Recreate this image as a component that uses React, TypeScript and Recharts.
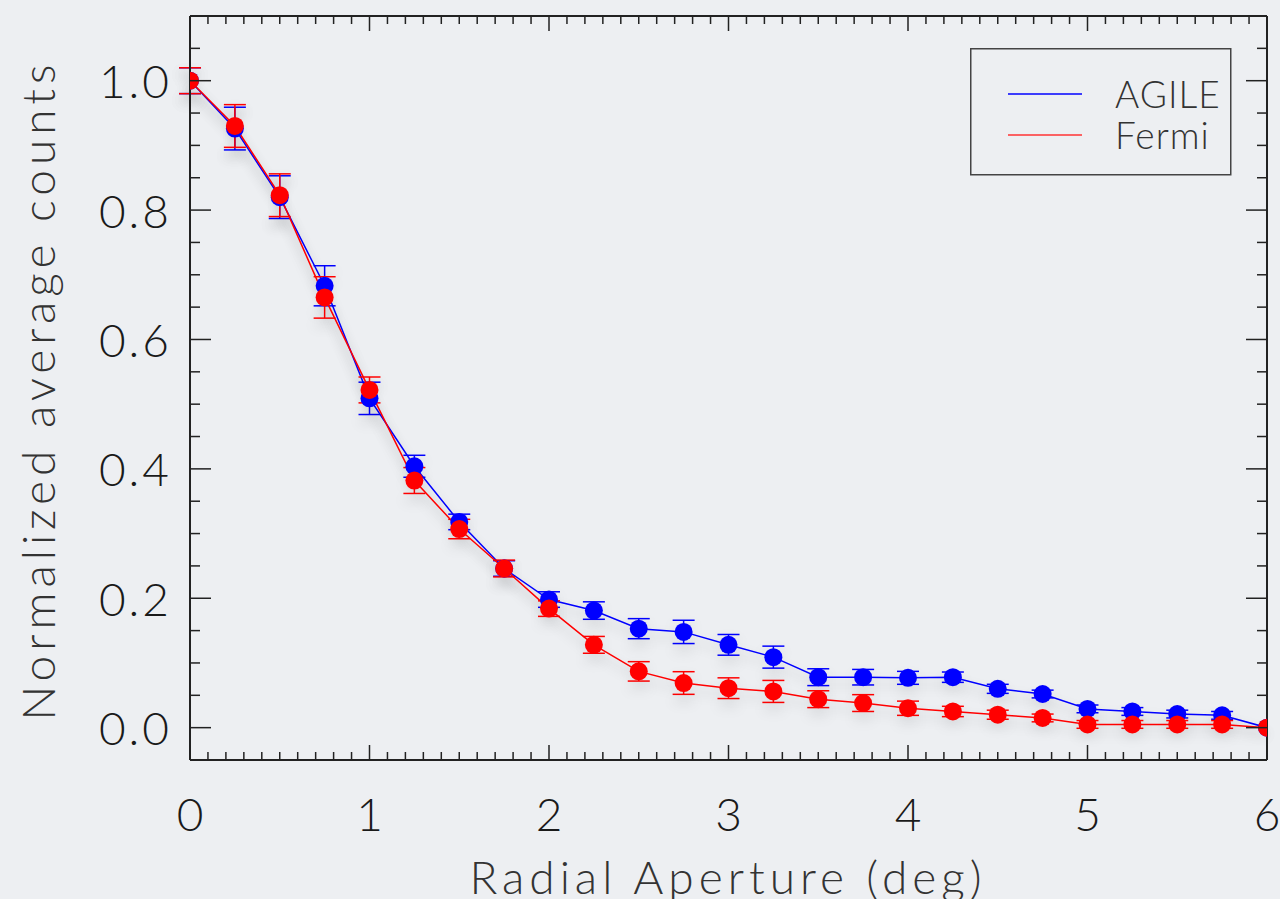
import React from "react";
import {
  ComposedChart,
  Line,
  XAxis,
  YAxis,
  ErrorBar,
} from "recharts";

const radius = [0, 0.25, 0.5, 0.75, 1, 1.25, 1.5, 1.75, 2, 2.25, 2.5, 2.75, 3, 3.25, 3.5, 3.75, 4, 4.25, 4.5, 4.75, 5, 5.25, 5.5, 5.75, 6];
const agile = [1.0, 0.926, 0.82, 0.683, 0.509, 0.404, 0.318, 0.246, 0.198, 0.181, 0.153, 0.148, 0.128, 0.109, 0.078, 0.078, 0.077, 0.078, 0.06, 0.052, 0.029, 0.025, 0.021, 0.019, 0.0];
const agileErr = [0.02, 0.033, 0.033, 0.031, 0.025, 0.017, 0.012, 0.012, 0.012, 0.0135, 0.0155, 0.018, 0.016, 0.017, 0.013, 0.012, 0.01, 0.008, 0.007, 0.006, 0.006, 0.006, 0.006, 0.006, 0];
const fermi = [1.0, 0.93, 0.823, 0.665, 0.522, 0.382, 0.307, 0.246, 0.184, 0.128, 0.087, 0.069, 0.061, 0.056, 0.044, 0.038, 0.03, 0.025, 0.02, 0.015, 0.005, 0.005, 0.005, 0.005, 0.0];
const fermiErr = [0.02, 0.033, 0.033, 0.032, 0.02, 0.02, 0.015, 0.013, 0.012, 0.013, 0.015, 0.0175, 0.016, 0.017, 0.013, 0.013, 0.011, 0.008, 0.007, 0.006, 0.006, 0.006, 0.006, 0.006, 0];

const xMajor = [0, 1, 2, 3, 4, 5, 6];
const yMajor = [0, 0.2, 0.4, 0.6, 0.8, 1.0];
const xMinorStep = 0.1;
const yMinorStep = 0.05;

const xTicks = Array.from({ length: 61 }, (_, i) => Math.round(i * xMinorStep * 10) / 10);
const yTicks = Array.from({ length: 22 }, (_, i) => Math.round(i * yMinorStep * 100) / 100);

const data = radius.map((r, i) => ({
  r,
  agile: agile[i],
  agileErr: agileErr[i],
  fermi: fermi[i],
  fermiErr: fermiErr[i],
}));

const AXIS = "#222";
const FONT = "Lato, 'DejaVu Sans', sans-serif";
const WEIGHT = 300;
const TEXT = "#1a1a1a";
const isMajor = (v: number, list: number[]) => list.some((m) => Math.abs(m - v) < 1e-6);

const BottomTick = (p: any) => {
  const v = p.payload.value;
  const major = isMajor(v, xMajor);
  return (
    <g>
      <line x1={p.x} x2={p.x} y1={760} y2={760 - (major ? 15 : 8)} stroke={AXIS} strokeWidth={1.5} />
      {major && (
        <text x={p.x} y={813} textAnchor="middle" dominantBaseline="central" fontFamily={FONT} fontWeight={WEIGHT} fontSize={46} fill={TEXT}>
          {v}
        </text>
      )}
    </g>
  );
};

const TopTick = (p: any) => {
  const major = isMajor(p.payload.value, xMajor);
  return <line x1={p.x} x2={p.x} y1={16} y2={16 + (major ? 15 : 8)} stroke={AXIS} strokeWidth={1.5} />;
};

const LeftTick = (p: any) => {
  const v = p.payload.value;
  const major = isMajor(v, yMajor);
  return (
    <g>
      <line x1={190} x2={190 + (major ? 21 : 10)} y1={p.y} y2={p.y} stroke={AXIS} strokeWidth={1.5} />
      {major && (
        <text x={172} y={p.y} textAnchor="end" dominantBaseline="central" fontFamily={FONT} fontWeight={WEIGHT} fontSize={46} fill={TEXT} letterSpacing={3}>
          {v.toFixed(1)}
        </text>
      )}
    </g>
  );
};

const RightTick = (p: any) => {
  const major = isMajor(p.payload.value, yMajor);
  return <line x1={1267} x2={1267 - (major ? 21 : 10)} y1={p.y} y2={p.y} stroke={AXIS} strokeWidth={1.5} />;
};

export default function App() {
  return (
    <div style={{ position: "absolute", left: 0, top: 0, width: 1280, height: 899, background: "#edeff2", overflow: "hidden" }}>
      <style>{`.recharts-line, .recharts-errorBars { filter: drop-shadow(0px 7px 6px rgba(0,0,0,0.22)); }`}</style>
      <ComposedChart width={1280} height={899} data={data} margin={{ top: 15, right: 12, bottom: 0, left: 0 }}>
        <XAxis xAxisId="b" dataKey="r" type="number" domain={[0, 6]} ticks={xTicks} interval={0} orientation="bottom" height={139} axisLine={{ stroke: AXIS, strokeWidth: 2 }} tickLine={false} tickSize={0} tickMargin={0} tick={<BottomTick />} allowDataOverflow />
        <XAxis xAxisId="t" dataKey="r" type="number" domain={[0, 6]} ticks={xTicks} interval={0} orientation="top" height={1} axisLine={{ stroke: AXIS, strokeWidth: 2 }} tickLine={false} tickSize={0} tick={<TopTick />} allowDataOverflow />
        <YAxis yAxisId="l" type="number" domain={[-0.05, 1.1]} ticks={yTicks} interval={0} orientation="left" width={190} axisLine={{ stroke: AXIS, strokeWidth: 2 }} tickLine={false} tickSize={0} tickMargin={0} tick={<LeftTick />} allowDataOverflow />
        <YAxis yAxisId="r" type="number" domain={[-0.05, 1.1]} ticks={yTicks} interval={0} orientation="right" width={1} axisLine={{ stroke: AXIS, strokeWidth: 2 }} tickLine={false} tickSize={0} tick={<RightTick />} allowDataOverflow />
        <Line xAxisId="b" yAxisId="l" dataKey="agile" stroke="#0000ff" strokeWidth={1.5} dot={{ r: 9, fill: "#0000ff", stroke: "none" }} activeDot={false} isAnimationActive={false}>
          <ErrorBar dataKey="agileErr" width={11} stroke="#0000ff" strokeWidth={1.5} direction="y" />
        </Line>
        <Line xAxisId="b" yAxisId="l" dataKey="fermi" stroke="#ff0000" strokeWidth={1.5} dot={{ r: 9, fill: "#ff0000", stroke: "none" }} activeDot={false} isAnimationActive={false}>
          <ErrorBar dataKey="fermiErr" width={11} stroke="#ff0000" strokeWidth={1.5} direction="y" />
        </Line>
        <Line xAxisId="t" yAxisId="r" dataKey="agile" stroke="none" dot={false} activeDot={false} isAnimationActive={false} />
      </ComposedChart>
      <div style={{ position: "absolute", left: 37, top: 390, transform: "translate(-50%, -50%) rotate(-90deg)", whiteSpace: "nowrap", fontFamily: FONT, fontWeight: WEIGHT, fontSize: 46, color: "#333", letterSpacing: 5 }}>
        Normalized average counts
      </div>
      <div style={{ position: "absolute", left: 728, top: 876, transform: "translate(-50%, -50%)", whiteSpace: "nowrap", fontFamily: FONT, fontWeight: WEIGHT, fontSize: 46, color: "#333", letterSpacing: 5 }}>
        Radial Aperture (deg)
      </div>
      <svg style={{ position: "absolute", left: 970, top: 48 }} width={262} height={128}>
        <rect x={0.75} y={0.75} width={260} height={126} fill="none" stroke="#444" strokeWidth={1.5} />
        <line x1={38} x2={112} y1={46} y2={46} stroke="#0000ff" strokeWidth={1.5} />
        <line x1={38} x2={112} y1={87} y2={87} stroke="#ff3333" strokeWidth={1.5} />
        <text x={145} y={60} fontFamily={FONT} fontWeight={WEIGHT} fontSize={37} fill="#333" letterSpacing={1}>AGILE</text>
        <text x={145} y={101} fontFamily={FONT} fontWeight={WEIGHT} fontSize={37} fill="#333" letterSpacing={1}>Fermi</text>
      </svg>
    </div>
  );
}
